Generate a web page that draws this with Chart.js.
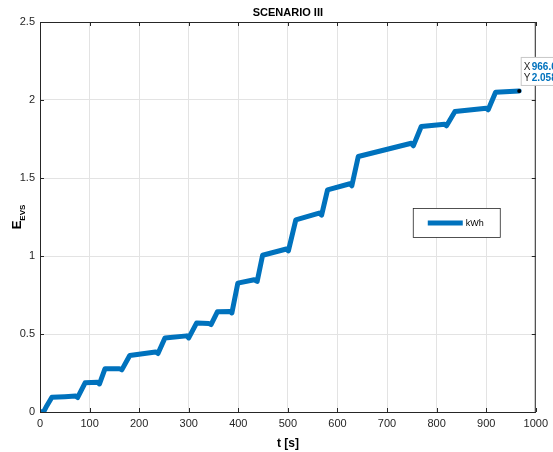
<!DOCTYPE html>
<html>
<head>
<meta charset="utf-8">
<script src="https://cdn.jsdelivr.net/npm/chart.js@4/dist/chart.umd.min.js"></script>
<style>
  html, body { margin: 0; padding: 0; background: #fff; }
  #wrap { width: 553px; height: 452px; }
</style>
</head>
<body>
<div id="wrap"><canvas id="energyChart" width="553" height="452"></canvas></div>
<script>
// time axis [s] and stored energy [kWh]
var timeSec = [0, 8, 12, 24, 50, 72, 76, 91, 116, 120, 131, 160, 165, 181, 233, 238,
  252, 296, 300, 316, 340, 345, 358, 383, 387, 399, 432, 438, 449, 497, 501, 516,
  563, 568, 580, 625, 629, 642, 749, 753, 769, 816, 820, 837, 900, 904, 919, 966.6];
var energyKwh = [0, 0.005, 0.03, 0.095, 0.098, 0.102, 0.093, 0.187, 0.19, 0.18, 0.277, 0.278,
  0.27, 0.362, 0.385, 0.375, 0.475, 0.488, 0.475, 0.571, 0.568, 0.56, 0.643, 0.645, 0.635,
  0.826, 0.848, 0.837, 1.005, 1.045, 1.033, 1.232, 1.275, 1.262, 1.424, 1.463, 1.45, 1.638,
  1.723, 1.706, 1.83, 1.845, 1.835, 1.926, 1.947, 1.937, 2.05, 2.058];
var xTicks = [0, 100, 200, 300, 400, 500, 600, 700, 800, 900, 1000];
var yTicks = [0, 0.5, 1, 1.5, 2, 2.5];
var seriesName = 'kWh';
var chartTitle = 'SCENARIO III';

var FONT = 'Liberation Sans, Arial, Helvetica, sans-serif';
var AXIS_COL = '#262626';
var GRID_COL = '#e3e3e3';
var LINE_COL = '#0072BD';

var points = timeSec.map(function (t, i) { return { x: t, y: energyKwh[i] }; });

// MATLAB-like extras: title over the axes, box with inward ticks,
// subscript y label, legend box, data tip
var matlabLook = {
  id: 'matlabLook',
  afterDraw: function (chart) {
    var ctx = chart.ctx, a = chart.chartArea;
    var xs = chart.scales.x, ys = chart.scales.y;
    ctx.save();

    // title centred over the plot area
    ctx.fillStyle = '#000';
    ctx.font = 'bold 11px ' + FONT;
    ctx.textAlign = 'center';
    ctx.textBaseline = 'middle';
    ctx.fillText(chartTitle, (a.left + a.right) / 2, a.top - 9);
    ctx.textAlign = 'left';

    // box
    ctx.strokeStyle = AXIS_COL;
    ctx.lineWidth = 1;
    ctx.strokeRect(a.left + 0.5, a.top + 0.5, a.right - a.left - 1, a.bottom - a.top);

    // inward ticks
    ctx.beginPath();
    xTicks.forEach(function (v) {
      var px = Math.round(xs.getPixelForValue(v)) + 0.5;
      ctx.moveTo(px, a.bottom); ctx.lineTo(px, a.bottom - 4);
      ctx.moveTo(px, a.top); ctx.lineTo(px, a.top + 4);
    });
    yTicks.forEach(function (v) {
      var py = Math.round(ys.getPixelForValue(v)) + 0.5;
      ctx.moveTo(a.left, py); ctx.lineTo(a.left + 4, py);
      ctx.moveTo(a.right, py); ctx.lineTo(a.right - 4, py);
    });
    ctx.stroke();

    // y axis title E_EVS
    ctx.save();
    ctx.translate(21, (a.top + a.bottom) / 2);
    ctx.rotate(-Math.PI / 2);
    ctx.fillStyle = '#000';
    ctx.textBaseline = 'alphabetic';
    ctx.font = 'bold 13px ' + FONT;
    var wE = ctx.measureText('E').width;
    ctx.font = 'bold 8px ' + FONT;
    var wSub = ctx.measureText('EVS').width;
    var x0 = -(wE + wSub) / 2;
    ctx.font = 'bold 13px ' + FONT;
    ctx.fillText('E', x0, 0);
    ctx.font = 'bold 8px ' + FONT;
    ctx.fillText('EVS', x0 + wE, 4);
    ctx.restore();

    // legend box
    var lx = a.right - 123, ly = a.top + 186, lw = 87, lh = 29;
    ctx.fillStyle = '#fff';
    ctx.fillRect(lx, ly, lw, lh);
    ctx.strokeStyle = AXIS_COL;
    ctx.lineWidth = 0.8;
    ctx.strokeRect(lx + 0.5, ly + 0.5, lw, lh);
    ctx.strokeStyle = LINE_COL;
    ctx.lineWidth = 5;
    ctx.beginPath();
    ctx.moveTo(lx + 15, ly + lh / 2 + 0.5);
    ctx.lineTo(lx + 50, ly + lh / 2 + 0.5);
    ctx.stroke();
    ctx.fillStyle = '#000';
    ctx.font = '9px ' + FONT;
    ctx.textBaseline = 'middle';
    ctx.fillText(seriesName, lx + 53, ly + lh / 2 + 1);

    // data tip at the last point
    var n = timeSec.length - 1;
    var dx = xs.getPixelForValue(timeSec[n]);
    var dy = ys.getPixelForValue(energyKwh[n]);
    ctx.fillStyle = '#000';
    ctx.beginPath();
    ctx.arc(dx, dy, 2, 0, Math.PI * 2);
    ctx.fill();
    var bx = dx + 1.5, by = dy - 34;
    ctx.fillStyle = '#fff';
    ctx.fillRect(bx, by, 60, 28);
    ctx.strokeStyle = '#c8c8c8';
    ctx.lineWidth = 1;
    ctx.strokeRect(bx + 0.5, by + 0.5, 60, 28);
    ctx.textBaseline = 'middle';
    ctx.font = '10px ' + FONT;
    ctx.fillStyle = '#262626';
    ctx.fillText('X', bx + 3, by + 10);
    ctx.fillText('Y', bx + 3, by + 21);
    ctx.font = 'bold 10px ' + FONT;
    ctx.fillStyle = '#0072BD';
    ctx.fillText(timeSec[n].toFixed(1), bx + 11, by + 10);
    ctx.fillText(energyKwh[n].toFixed(3), bx + 11, by + 21);

    ctx.restore();
  }
};

var ctx = document.getElementById('energyChart').getContext('2d');
var energyChart = new Chart(ctx, {
  type: 'line',
  data: {
    datasets: [{
      label: seriesName,
      data: points,
      borderColor: LINE_COL,
      backgroundColor: LINE_COL,
      borderWidth: 5,
      pointRadius: 0,
      tension: 0,
      borderCapStyle: 'round',
      borderJoinStyle: 'round'
    }]
  },
  options: {
    responsive: false,
    animation: false,
    layout: { padding: { top: 22, right: 17, left: 0, bottom: 0 } },
    plugins: {
      legend: { display: false },
      tooltip: { enabled: false },
      title: { display: false }
    },
    scales: {
      x: {
        type: 'linear',
        min: 0,
        max: 1000,
        afterBuildTicks: function (s) { s.ticks = xTicks.map(function (v) { return { value: v }; }); },
        afterFit: function (s) { s.height = 40; },
        ticks: {
          color: AXIS_COL,
          font: { family: FONT, size: 11 },
          padding: 5,
          maxRotation: 0,
          callback: function (v) { return String(v); }
        },
        grid: { color: GRID_COL, drawTicks: false },
        border: { color: AXIS_COL },
        title: {
          display: true,
          text: 't [s]',
          color: '#000',
          font: { family: FONT, size: 12, weight: 'bold' },
          padding: { top: 0, bottom: 1 }
        }
      },
      y: {
        min: 0,
        max: 2.5,
        afterBuildTicks: function (s) { s.ticks = yTicks.map(function (v) { return { value: v }; }); },
        afterFit: function (s) { s.width = 40; },
        ticks: {
          color: AXIS_COL,
          font: { family: FONT, size: 11 },
          padding: 5,
          callback: function (v) { return String(v); }
        },
        grid: { color: GRID_COL, drawTicks: false },
        border: { color: AXIS_COL }
      }
    }
  },
  plugins: [matlabLook]
});
</script>
</body>
</html>
